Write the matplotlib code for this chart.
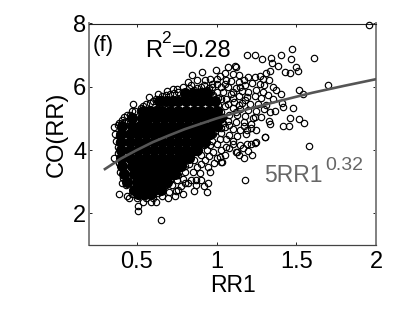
import matplotlib
matplotlib.use("Agg")
import matplotlib.pyplot as plt
import numpy as np

plt.rcParams['font.family'] = ['Liberation Sans', 'DejaVu Sans']

# Points that overlap into a solid mass: (y, x values) read per row
core_rows = [
    (5.80, [.80, .85, .90, .94]),
    (5.55, [.64, .68, .72, .76, .81, .86, .90, .95, .99]),
    (5.25, [.54, .58, .62, .66, .71, .76, .81, .86, .90, .95, 1.0]),
    (5.00, [.47, .53, .57, .62, .67, .72, .77, .82, .87, .92, .97, 1.02]),
    (4.75, [.41, .47, .52, .57, .62, .67, .72, .77, .82, .87, .92, .97, 1.0]),
    (4.50, [.40, .46, .51, .56, .61, .66, .71, .76, .81, .86, .91, .96]),
    (4.25, [.40, .46, .51, .56, .61, .66, .71, .76, .81, .86, .90, .93]),
    (4.00, [.40, .46, .51, .56, .61, .66, .71, .76, .81, .86, .88]),
    (3.75, [.40, .46, .51, .56, .61, .66, .71, .76, .80, .83]),
    (3.50, [.41, .47, .52, .57, .62, .67, .72, .76, .78]),
    (3.25, [.42, .48, .53, .58, .63, .68, .72, .74]),
    (3.00, [.44, .50, .55, .60, .65, .69]),
    (2.75, [.48, .53, .57, .61, .65]),
    (2.60, [.51, .55, .59]),
]

# Individually readable points
far_points = [
    (1.954,7.94),(1.188,7.0),(1.24,7.02),(1.286,6.87),(1.344,6.92),(1.402,7.02),(1.473,7.18),
    (1.467,6.87),(1.613,6.92),(1.348,6.75),(1.386,6.67),(1.427,6.46),(1.461,6.43),(1.496,6.61),
    (1.511,6.5),(1.338,6.49),(1.696,6.07),(1.519,5.9),(1.544,5.76),(1.352,5.99),(1.375,5.9),
    (1.406,5.77),(1.354,5.6),(1.409,5.48),(1.415,5.36),(1.482,5.32),(1.367,5.23),(1.334,5.19),
    (1.459,5.0),(1.517,4.97),(1.548,4.84),(1.419,4.75),(1.452,4.75),(1.327,4.93),(1.336,4.83),
    (1.215,4.83),(1.215,4.7),(1.302,4.42),(1.186,4.51),(1.244,5.06),(1.577,4.13),(1.179,3.06),
    (1.302,4.40),(1.238,4.21),(1.221,3.85),(1.169,3.74),(1.127,3.95),(1.165,4.06),(1.19,4.19),
    (1.06,4.11),(1.034,3.61),(1.248,4.24),(1.213,4.18),(1.145,4.16),(1.2,3.97),(1.143,3.86),
]
lower_edge = [
    (.65,1.78),(.509,2.06),(.509,2.22),(.388,2.62),(.356,3.76),(.452,2.5),(.44,2.54),(.536,2.36),
    (.588,2.35),(.623,2.35),(.696,2.48),(.74,2.56),(.792,2.62),(.859,2.72),(.942,2.66),(.944,2.97),
    (1.03,3.61),(.982,3.58),(.946,3.48),(.898,3.27),(.821,2.97),(.748,2.71),(.921,2.85),(.873,3.06),
    (.394,3.3),(.415,3.11),(1.019,3.79),(1.123,3.95),(.47,2.6),(.5,2.5),(.56,2.5),(.6,2.5),(.66,2.55),
    (.7,2.68),(.76,2.75),(.8,2.95),(.84,3.05),(.79,3.1),(.75,3.05),(.72,2.9),(.66,2.8),(.43,2.9),
    (.4,3.45),(.39,3.6),(.38,3.9),(.38,4.1),(.37,4.3),(.365,4.5),(.39,4.45),(.85,3.3),(.88,3.45),
    (.9,3.55),(.93,3.7),(.95,3.8),(.98,3.95),(.8,3.3),(.83,3.55),(.86,3.7),(.9,3.85),(.94,4.0),
    (.87,2.9),(.9,3.05),(.96,3.3),(.78,2.85),(.72,3.2),(.77,3.45),(.81,3.75),(.86,4.0),(.91,4.25),
    (1.0,3.75),(1.03,4.0),(1.0,4.2),(.97,4.3),(1.05,3.85),(1.08,4.05),(1.1,4.2),(1.02,4.35),(.95,4.45),
    (.41,2.95),(.42,3.2),(.4,3.7),(.39,4.25),(.48,2.75),(.53,2.6),(.58,2.6),(.63,2.65),(.68,2.9),
    (.71,3.05),(.74,3.3),(.76,3.2),(.78,3.6),(.8,3.5),(.82,3.85),(.84,3.8),(.86,4.15),(.88,3.95),
    (.9,4.4),(.92,4.15),(.96,4.15),(.94,4.6),(.98,4.5),
]
upper_edge = [
    (.359,4.72),(.404,4.95),(.39,4.85),(.467,5.22),(.475,5.45),(.44,5.1),(.527,5.34),(.577,5.69),
    (.56,5.45),(.6,5.55),(.634,5.77),(.692,5.87),(.727,5.92),(.754,5.94),(.66,5.72),(.71,5.78),(.79,5.98),
    (.821,6.16),(.84,6.05),(.848,6.38),(.88,6.2),(.911,6.46),(.93,6.2),(.96,6.25),(.994,6.53),(1.02,6.35),
    (1.05,6.45),(1.071,6.62),(1.123,6.62),(1.118,6.66),(1.1,6.4),(1.14,6.38),(1.17,6.2),(1.2,6.3),
    (1.24,6.32),(1.27,6.35),(1.31,6.45),(1.29,6.25),(1.33,6.2),(1.3,6.05),(1.27,6.1),(1.22,6.12),
    (1.18,6.05),(1.14,6.15),(1.09,6.18),(1.06,6.22),(1.0,6.1),(.97,6.0),(1.03,6.0),(1.07,5.98),
    (1.12,5.95),(1.16,5.88),(1.2,5.85),(1.25,5.9),(1.29,5.82),(1.32,5.75),(1.28,5.65),(1.24,5.7),
    (1.19,5.68),(1.14,5.72),(1.09,5.76),(1.04,5.82),(1.0,5.85),(1.01,5.65),(1.06,5.6),(1.11,5.52),
    (1.16,5.5),(1.21,5.46),(1.26,5.45),(1.31,5.42),(1.3,5.3),(1.25,5.25),(1.2,5.28),(1.15,5.3),
    (1.1,5.32),(1.05,5.38),(1.01,5.42),(1.03,5.2),(1.08,5.12),(1.13,5.1),(1.18,5.08),(1.23,5.0),
    (1.28,5.05),(1.17,4.9),(1.12,4.88),(1.07,4.92),(1.02,4.98),(1.01,4.75),(1.05,4.72),(1.1,4.68),
    (1.15,4.62),(1.17,4.75),(1.13,4.45),(1.08,4.48),(1.03,4.55),(.99,4.6),(1.19,4.62),(1.25,4.65),
    (1.1,4.3),(1.06,4.35),(.97,6.1),(.9,6.0),(.86,5.9),(.94,5.9),
    (.38,4.8),(.42,4.9),(.42,5.05),(.46,5.12),(.49,5.25),(.52,5.25),(.54,5.4),(.58,5.5),(.62,5.62),
    (.65,5.6),(.68,5.75),(.73,5.8),(.76,5.85),(.8,5.85),(.83,5.95),(.88,5.95),(.92,6.05),(.95,5.95),
    (.98,5.75),(.96,5.8),(.99,5.55),(.98,5.35),(1.0,5.15),(.99,4.9),(.97,5.2),(.93,5.7),(.9,5.8),
    (1.03,5.6),(1.07,5.45),(1.04,5.05),(1.12,5.2),(1.08,4.8),(1.14,5.42),(1.18,5.58),(1.1,5.85),
    (1.05,6.08),(1.15,6.0),(1.04,4.85),(1.03,4.7),(1.0,6.25),(1.1,5.65),
]
fit_x = [.3, .4, .5, .6, .7, .8, .9, 1.0, 1.2, 1.4, 1.6, 1.8, 2.0]
fit_y = [3.40, 3.73, 4.00, 4.25, 4.46, 4.66, 4.83, 5.00, 5.30, 5.56, 5.81, 6.03, 6.24]
x_ticks = [.5, 1, 1.5, 2]
x_labels = ['0.5', '1', '1.5', '2']
y_ticks = [2, 4, 6, 8]

fig = plt.figure(figsize=(4.15, 3.13), dpi=100)
L, R, T, B = 89, 376, 23.5, 245
ax = fig.add_axes([L/415, 1-B/313, (R-L)/415, (B-T)/313])

core_x = [x for _, xs in core_rows for x in xs]
core_y = [y for y, xs in core_rows for _ in xs]
ax.plot(core_x, core_y, 'o', ms=8, mfc='k', mec='k', mew=0, zorder=2)
for pts in (far_points, lower_edge, upper_edge):
    a = np.array(pts)
    ax.plot(a[:, 0], a[:, 1], 'o', ms=4.6, mfc='none', mec='k', mew=0.85, zorder=3, clip_on=False)
ax.plot(fit_x, fit_y, '-', color='#555555', lw=1.9, zorder=4)

ax.set_xlim(.2, 2)
ax.set_ylim(1, 8)
ax.set_xticks(x_ticks, x_labels)
ax.set_yticks(y_ticks)
ax.tick_params(direction='in', top=True, right=True, length=2.2, width=.6, labelsize=17)
ax.tick_params(axis='x', pad=4)
ax.tick_params(axis='y', pad=2)
ax.set_xlabel('RR1', fontsize=16.5, labelpad=1)
ax.set_ylabel('CO(RR)', fontsize=17, labelpad=4)
ax.spines['left'].set(color='#808080', lw=1.4)
ax.spines['right'].set(color='#808080', lw=1.4)
ax.spines['top'].set(color='#222222', lw=.8)
ax.spines['bottom'].set(color='#444444', lw=.9)

ax.text(.225, 7.12, '(f)', fontsize=16, va='baseline', ha='left')
ax.text(.55, 6.95, 'R', fontsize=17, va='baseline')
ax.text(.654, 7.38, '2', fontsize=12.5, va='baseline')
ax.text(.717, 6.95, '=0.28', fontsize=17, va='baseline')
ax.text(1.3, 3.0, '5RR1', fontsize=16.5, va='baseline', color='#666666')
ax.text(1.68, 3.36, '0.32', fontsize=14, va='baseline', color='#666666')

fig.savefig('out.png', dpi=100)
